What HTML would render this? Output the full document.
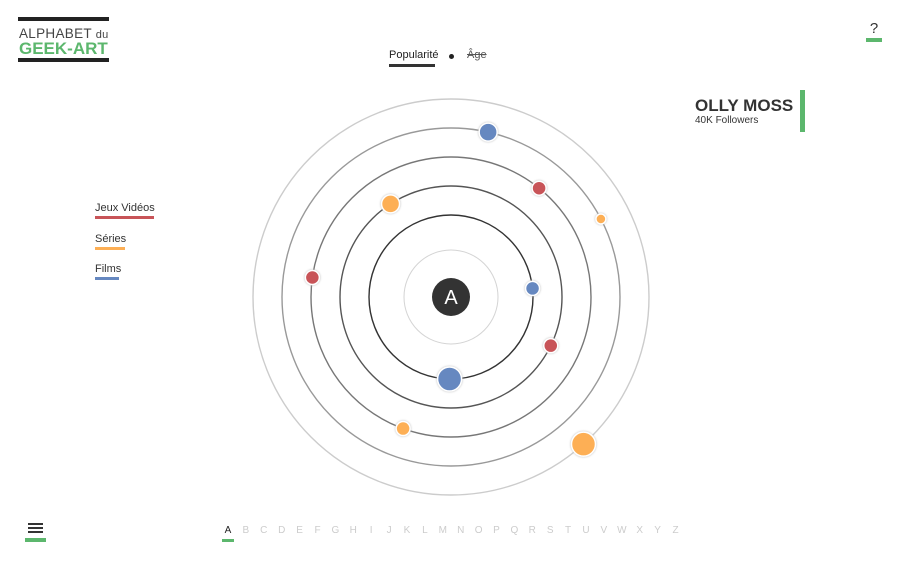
<!DOCTYPE html>
<html><head><meta charset="utf-8"><style>
html,body{margin:0;padding:0;background:#fff;width:900px;height:563px;overflow:hidden;font-family:"Liberation Sans",sans-serif;}
.abs{position:absolute;}
</style></head><body>
<div class="abs" style="left:18px;top:17px;width:91px;height:45px;">
 <div class="abs" style="left:0;top:0;width:91px;height:4px;background:#222"></div>
 <div class="abs" style="left:1px;top:9px;font-size:13.5px;color:#444;white-space:nowrap;letter-spacing:0.3px">ALPHABET <span style="font-size:11px">du</span></div>
 <div class="abs" style="left:1px;top:22px;font-size:17px;font-weight:bold;color:#5cb76d;white-space:nowrap">GEEK-ART</div>
 <div class="abs" style="left:0;top:41px;width:91px;height:4px;background:#222"></div>
</div>
<div class="abs" style="left:389px;top:49px;font-size:11px;color:#222">Popularité<div style="height:3px;background:#333;margin-top:3px;width:46px"></div></div>
<div class="abs" style="left:449px;top:54px;width:5px;height:5px;border-radius:50%;background:#222"></div>
<div class="abs" style="left:467px;top:49px;font-size:11px;color:#555;text-decoration:line-through">Âge</div>
<div class="abs" style="left:866px;top:20px;width:16px;text-align:center;font-size:15px;color:#333">?<div style="height:4px;background:#5cb76d;margin-top:1px"></div></div>
<div class="abs" style="left:695px;top:96px;font-size:17px;font-weight:bold;color:#333">OLLY MOSS</div>
<div class="abs" style="left:695px;top:115px;font-size:10px;color:#333">40K Followers</div>
<div class="abs" style="left:800px;top:90px;width:5px;height:42px;background:#5cb76d"></div>
<div class="abs" style="left:95px;top:202px;font-size:11px;color:#333">Jeux Vidéos<div style="height:3px;background:#c85458;margin-top:2px;width:59px"></div></div>
<div class="abs" style="left:95px;top:233px;font-size:11px;color:#333">Séries<div style="height:3px;background:#fdaf55;margin-top:2px;width:30px"></div></div>
<div class="abs" style="left:95px;top:263px;font-size:11px;color:#333">Films<div style="height:3px;background:#6688c0;margin-top:2px;width:24px"></div></div>
<div class="abs" style="left:25px;top:523px;width:21px">
 <div style="height:2px;background:#333;margin:0 3px 2px"></div><div style="height:2px;background:#333;margin:0 3px 2px"></div><div style="height:2px;background:#333;margin:0 3px 5px"></div><div style="height:4px;background:#5cb76d"></div>
</div>
<div id="alpha" class="abs" style="left:222px;top:525px;height:20px;width:470px"></div>
<svg id="chart" class="abs" style="left:0;top:0" width="900" height="563"></svg>
<script>
const letters="ABCDEFGHIJKLMNOPQRSTUVWXYZ".split("");
const ringRadii=[47,82,111,140,169,198];
const ringColors=["#d4d4d4","#333","#555","#777","#999","#ccc"];
const itemCategory=["film","jeu","serie","serie","jeu","film","jeu","film","serie","serie"];
const itemRing=[4,3,4,2,3,1,2,1,3,5];
const itemAngle=[12.7,39,62.5,327,278,84,116,181,200,138];
const itemSize=[9,7,5,9,7,7,7,12,7,12];
const catColor={film:"#6688c0",jeu:"#c85458",serie:"#fdaf55"};
const cx=451,cy=297;
const NS="http://www.w3.org/2000/svg";
const svg=document.getElementById("chart");
function mk(t,a){const e=document.createElementNS(NS,t);for(const k in a)e.setAttribute(k,a[k]);svg.appendChild(e);return e;}
ringRadii.forEach((r,i)=>{
 const c=mk("circle",{cx:cx,cy:cy,r:r,fill:"none",stroke:ringColors[i],"stroke-width":i==0?1:1.4});
 
 
});
const hub=mk("circle",{cx:cx,cy:cy,r:19,fill:"#333"});


const ht=mk("text",{x:cx,y:cy+7,"text-anchor":"middle","font-size":20,fill:"#fff","font-family":"Liberation Sans, sans-serif"});
ht.textContent="A";


function pos(ring,ang){const r=ringRadii[ring],a=ang*Math.PI/180;return [cx+r*Math.sin(a),cy-r*Math.cos(a)];}
itemRing.forEach((ring,i)=>{
 const p=pos(ring,itemAngle[i]);
 const c=mk("circle",{cx:p[0],cy:p[1],r:itemSize[i],fill:catColor[itemCategory[i]],stroke:"#fff","stroke-width":1.5});
 c.style.filter="drop-shadow(0 0 1px #bbb)";
 
 
});
const al=document.getElementById("alpha");
letters.forEach((l,i)=>{
 const d=document.createElement("div");
 d.className="abs";
 d.style.cssText="left:"+(i*17.9)+"px;top:0;font-size:10px;width:12px;text-align:center;color:"+(i==0?"#222":"#ccc");
 d.innerHTML=l+(i==0?'<div style="height:3px;background:#5cb76d;margin-top:3px"></div>':'');
 
 
 al.appendChild(d);
});
</script>
</body></html>
